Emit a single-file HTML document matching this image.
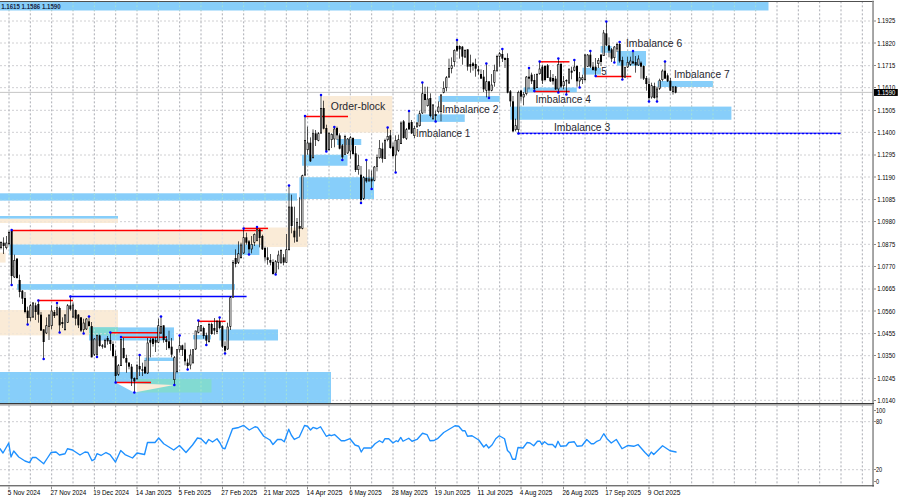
<!DOCTYPE html>
<html><head><meta charset="utf-8"><title>chart</title>
<style>html,body{margin:0;padding:0;background:#fff;}body{width:900px;height:500px;overflow:hidden;font-family:"Liberation Sans",sans-serif;}svg{display:block;}</style>
</head><body><svg width="900" height="500" viewBox="0 0 1350 750"><g stroke-width="1" stroke-dasharray="3 3" fill="none"><g stroke="#80848e"><line x1="13.5" y1="2" x2="13.5" y2="729"/><line x1="45.5" y1="2" x2="45.5" y2="729"/><line x1="77.5" y1="2" x2="77.5" y2="729"/><line x1="109.5" y1="2" x2="109.5" y2="729"/><line x1="141.5" y1="2" x2="141.5" y2="729"/><line x1="173.5" y1="2" x2="173.5" y2="729"/><line x1="205.5" y1="2" x2="205.5" y2="729"/><line x1="237.5" y1="2" x2="237.5" y2="729"/><line x1="269.5" y1="2" x2="269.5" y2="729"/><line x1="301.5" y1="2" x2="301.5" y2="729"/><line x1="333.5" y1="2" x2="333.5" y2="729"/><line x1="365.5" y1="2" x2="365.5" y2="729"/><line x1="397.5" y1="2" x2="397.5" y2="729"/><line x1="429.5" y1="2" x2="429.5" y2="729"/><line x1="461.5" y1="2" x2="461.5" y2="729"/><line x1="493.5" y1="2" x2="493.5" y2="729"/><line x1="525.5" y1="2" x2="525.5" y2="729"/><line x1="557.5" y1="2" x2="557.5" y2="729"/><line x1="589.5" y1="2" x2="589.5" y2="729"/><line x1="621.5" y1="2" x2="621.5" y2="729"/><line x1="653.5" y1="2" x2="653.5" y2="729"/><line x1="685.5" y1="2" x2="685.5" y2="729"/><line x1="717.5" y1="2" x2="717.5" y2="729"/><line x1="749.5" y1="2" x2="749.5" y2="729"/><line x1="781.5" y1="2" x2="781.5" y2="729"/><line x1="813.5" y1="2" x2="813.5" y2="729"/><line x1="845.5" y1="2" x2="845.5" y2="729"/><line x1="877.5" y1="2" x2="877.5" y2="729"/><line x1="909.5" y1="2" x2="909.5" y2="729"/><line x1="941.5" y1="2" x2="941.5" y2="729"/><line x1="973.5" y1="2" x2="973.5" y2="729"/><line x1="1005.5" y1="2" x2="1005.5" y2="729"/><line x1="1037.5" y1="2" x2="1037.5" y2="729"/><line x1="1069.5" y1="2" x2="1069.5" y2="729"/><line x1="1101.5" y1="2" x2="1101.5" y2="729"/><line x1="1133.5" y1="2" x2="1133.5" y2="729"/><line x1="1165.5" y1="2" x2="1165.5" y2="729"/><line x1="1197.5" y1="2" x2="1197.5" y2="729"/><line x1="1229.5" y1="2" x2="1229.5" y2="729"/><line x1="1261.5" y1="2" x2="1261.5" y2="729"/><line x1="1293.5" y1="2" x2="1293.5" y2="729"/></g><g stroke="#b8b8bc"><line x1="0" y1="31.5" x2="1310" y2="31.5"/><line x1="0" y1="64.5" x2="1310" y2="64.5"/><line x1="0" y1="98.5" x2="1310" y2="98.5"/><line x1="0" y1="131.5" x2="1310" y2="131.5"/><line x1="0" y1="165.5" x2="1310" y2="165.5"/><line x1="0" y1="198.5" x2="1310" y2="198.5"/><line x1="0" y1="232.5" x2="1310" y2="232.5"/><line x1="0" y1="265.5" x2="1310" y2="265.5"/><line x1="0" y1="299.5" x2="1310" y2="299.5"/><line x1="0" y1="332.5" x2="1310" y2="332.5"/><line x1="0" y1="366.5" x2="1310" y2="366.5"/><line x1="0" y1="399.5" x2="1310" y2="399.5"/><line x1="0" y1="433.5" x2="1310" y2="433.5"/><line x1="0" y1="466.5" x2="1310" y2="466.5"/><line x1="0" y1="500.5" x2="1310" y2="500.5"/><line x1="0" y1="533.5" x2="1310" y2="533.5"/><line x1="0" y1="567.5" x2="1310" y2="567.5"/><line x1="0" y1="600.5" x2="1310" y2="600.5"/><line x1="0" y1="632.5" x2="1310" y2="632.5"/><line x1="0" y1="704.5" x2="1310" y2="704.5"/></g></g>
<line x1="0" y1="138.6" x2="1310" y2="138.6" stroke="#b8b8b8" stroke-width="1.2"/>
<g><rect x="0.00" y="3.00" width="1152.75" height="12.75" fill="#87CEFA"/><rect x="0.00" y="289.95" width="445.50" height="10.95" fill="#87CEFA"/><rect x="0.00" y="327.90" width="177.00" height="6.60" fill="#FAEBD7"/><rect x="0.00" y="324.00" width="177.00" height="3.90" fill="#87CEFA"/><rect x="17.10" y="346.80" width="377.02" height="19.95" fill="#FAEBD7"/><rect x="394.12" y="341.25" width="67.12" height="29.25" fill="#FAEBD7"/><rect x="14.10" y="366.75" width="375.00" height="15.75" fill="#87CEFA"/><rect x="0.00" y="378.90" width="8.40" height="15.00" fill="#FAEBD7"/><rect x="25.50" y="426.15" width="327.00" height="8.47" fill="#87CEFA"/><rect x="0.00" y="465.00" width="177.00" height="38.10" fill="#FAEBD7"/><rect x="133.50" y="491.10" width="127.50" height="19.65" fill="#87CEFA"/><rect x="133.50" y="491.10" width="43.50" height="12.00" fill="#82DAD2"/><rect x="216.75" y="536.40" width="44.25" height="5.10" fill="#87CEFA"/><rect x="289.50" y="502.50" width="27.00" height="6.60" fill="#87CEFA"/><rect x="329.10" y="494.10" width="87.90" height="16.65" fill="#87CEFA"/><rect x="0.00" y="558.00" width="496.50" height="46.80" fill="#87CEFA"/><rect x="205.50" y="568.50" width="111.75" height="20.25" fill="#82DAD2"/><rect x="449.10" y="265.88" width="111.90" height="32.62" fill="#87CEFA"/><rect x="453.00" y="232.12" width="68.25" height="16.50" fill="#87CEFA"/><rect x="505.50" y="208.50" width="36.38" height="9.00" fill="#87CEFA"/><rect x="483.75" y="144.00" width="104.70" height="54.75" fill="#FAEBD7"/><rect x="624.90" y="171.60" width="72.22" height="11.25" fill="#87CEFA"/><rect x="657.75" y="144.00" width="91.88" height="8.85" fill="#87CEFA"/><rect x="765.60" y="159.90" width="331.50" height="19.73" fill="#87CEFA"/><rect x="785.25" y="131.25" width="79.95" height="7.12" fill="#87CEFA"/><rect x="873.75" y="101.62" width="27.75" height="10.27" fill="#87CEFA"/><rect x="900.90" y="69.00" width="16.50" height="10.12" fill="#87CEFA"/><rect x="925.50" y="76.50" width="43.50" height="22.12" fill="#87CEFA"/><rect x="986.40" y="121.50" width="83.10" height="9.00" fill="#87CEFA"/></g>
<clipPath id="cb"><rect x="0.00" y="3.00" width="1152.75" height="12.75" fill="#87CEFA"/><rect x="0.00" y="289.95" width="445.50" height="10.95" fill="#87CEFA"/><rect x="0.00" y="324.00" width="177.00" height="3.90" fill="#87CEFA"/><rect x="14.10" y="366.75" width="375.00" height="15.75" fill="#87CEFA"/><rect x="25.50" y="426.15" width="327.00" height="8.47" fill="#87CEFA"/><rect x="133.50" y="491.10" width="127.50" height="19.65" fill="#87CEFA"/><rect x="216.75" y="536.40" width="44.25" height="5.10" fill="#87CEFA"/><rect x="289.50" y="502.50" width="27.00" height="6.60" fill="#87CEFA"/><rect x="329.10" y="494.10" width="87.90" height="16.65" fill="#87CEFA"/><rect x="0.00" y="558.00" width="496.50" height="46.80" fill="#87CEFA"/><rect x="449.10" y="265.88" width="111.90" height="32.62" fill="#87CEFA"/><rect x="453.00" y="232.12" width="68.25" height="16.50" fill="#87CEFA"/><rect x="505.50" y="208.50" width="36.38" height="9.00" fill="#87CEFA"/><rect x="624.90" y="171.60" width="72.22" height="11.25" fill="#87CEFA"/><rect x="657.75" y="144.00" width="91.88" height="8.85" fill="#87CEFA"/><rect x="765.60" y="159.90" width="331.50" height="19.73" fill="#87CEFA"/><rect x="785.25" y="131.25" width="79.95" height="7.12" fill="#87CEFA"/><rect x="873.75" y="101.62" width="27.75" height="10.27" fill="#87CEFA"/><rect x="900.90" y="69.00" width="16.50" height="10.12" fill="#87CEFA"/><rect x="925.50" y="76.50" width="43.50" height="22.12" fill="#87CEFA"/><rect x="986.40" y="121.50" width="83.10" height="9.00" fill="#87CEFA"/></clipPath><clipPath id="cq"><rect x="0.00" y="327.90" width="177.00" height="6.60" fill="#FAEBD7"/><rect x="17.10" y="346.80" width="377.02" height="19.95" fill="#FAEBD7"/><rect x="394.12" y="341.25" width="67.12" height="29.25" fill="#FAEBD7"/><rect x="0.00" y="378.90" width="8.40" height="15.00" fill="#FAEBD7"/><rect x="0.00" y="465.00" width="177.00" height="38.10" fill="#FAEBD7"/><rect x="483.75" y="144.00" width="104.70" height="54.75" fill="#FAEBD7"/></clipPath>
<g stroke-width="1" stroke-dasharray="3 3" fill="none" clip-path="url(#cb)"><g stroke="#b4eec4"><line x1="13.5" y1="2" x2="13.5" y2="729"/><line x1="45.5" y1="2" x2="45.5" y2="729"/><line x1="77.5" y1="2" x2="77.5" y2="729"/><line x1="109.5" y1="2" x2="109.5" y2="729"/><line x1="141.5" y1="2" x2="141.5" y2="729"/><line x1="173.5" y1="2" x2="173.5" y2="729"/><line x1="205.5" y1="2" x2="205.5" y2="729"/><line x1="237.5" y1="2" x2="237.5" y2="729"/><line x1="269.5" y1="2" x2="269.5" y2="729"/><line x1="301.5" y1="2" x2="301.5" y2="729"/><line x1="333.5" y1="2" x2="333.5" y2="729"/><line x1="365.5" y1="2" x2="365.5" y2="729"/><line x1="397.5" y1="2" x2="397.5" y2="729"/><line x1="429.5" y1="2" x2="429.5" y2="729"/><line x1="461.5" y1="2" x2="461.5" y2="729"/><line x1="493.5" y1="2" x2="493.5" y2="729"/><line x1="525.5" y1="2" x2="525.5" y2="729"/><line x1="557.5" y1="2" x2="557.5" y2="729"/><line x1="589.5" y1="2" x2="589.5" y2="729"/><line x1="621.5" y1="2" x2="621.5" y2="729"/><line x1="653.5" y1="2" x2="653.5" y2="729"/><line x1="685.5" y1="2" x2="685.5" y2="729"/><line x1="717.5" y1="2" x2="717.5" y2="729"/><line x1="749.5" y1="2" x2="749.5" y2="729"/><line x1="781.5" y1="2" x2="781.5" y2="729"/><line x1="813.5" y1="2" x2="813.5" y2="729"/><line x1="845.5" y1="2" x2="845.5" y2="729"/><line x1="877.5" y1="2" x2="877.5" y2="729"/><line x1="909.5" y1="2" x2="909.5" y2="729"/><line x1="941.5" y1="2" x2="941.5" y2="729"/><line x1="973.5" y1="2" x2="973.5" y2="729"/><line x1="1005.5" y1="2" x2="1005.5" y2="729"/><line x1="1037.5" y1="2" x2="1037.5" y2="729"/><line x1="1069.5" y1="2" x2="1069.5" y2="729"/><line x1="1101.5" y1="2" x2="1101.5" y2="729"/><line x1="1133.5" y1="2" x2="1133.5" y2="729"/><line x1="1165.5" y1="2" x2="1165.5" y2="729"/><line x1="1197.5" y1="2" x2="1197.5" y2="729"/><line x1="1229.5" y1="2" x2="1229.5" y2="729"/><line x1="1261.5" y1="2" x2="1261.5" y2="729"/><line x1="1293.5" y1="2" x2="1293.5" y2="729"/></g><g stroke="#98d8e8"><line x1="0" y1="31.5" x2="1310" y2="31.5"/><line x1="0" y1="64.5" x2="1310" y2="64.5"/><line x1="0" y1="98.5" x2="1310" y2="98.5"/><line x1="0" y1="131.5" x2="1310" y2="131.5"/><line x1="0" y1="165.5" x2="1310" y2="165.5"/><line x1="0" y1="198.5" x2="1310" y2="198.5"/><line x1="0" y1="232.5" x2="1310" y2="232.5"/><line x1="0" y1="265.5" x2="1310" y2="265.5"/><line x1="0" y1="299.5" x2="1310" y2="299.5"/><line x1="0" y1="332.5" x2="1310" y2="332.5"/><line x1="0" y1="366.5" x2="1310" y2="366.5"/><line x1="0" y1="399.5" x2="1310" y2="399.5"/><line x1="0" y1="433.5" x2="1310" y2="433.5"/><line x1="0" y1="466.5" x2="1310" y2="466.5"/><line x1="0" y1="500.5" x2="1310" y2="500.5"/><line x1="0" y1="533.5" x2="1310" y2="533.5"/><line x1="0" y1="567.5" x2="1310" y2="567.5"/><line x1="0" y1="600.5" x2="1310" y2="600.5"/><line x1="0" y1="632.5" x2="1310" y2="632.5"/><line x1="0" y1="704.5" x2="1310" y2="704.5"/></g></g>
<g stroke-width="1" stroke-dasharray="3 3" fill="none" clip-path="url(#cq)"><g stroke="#d2dae8"><line x1="13.5" y1="2" x2="13.5" y2="729"/><line x1="45.5" y1="2" x2="45.5" y2="729"/><line x1="77.5" y1="2" x2="77.5" y2="729"/><line x1="109.5" y1="2" x2="109.5" y2="729"/><line x1="141.5" y1="2" x2="141.5" y2="729"/><line x1="173.5" y1="2" x2="173.5" y2="729"/><line x1="205.5" y1="2" x2="205.5" y2="729"/><line x1="237.5" y1="2" x2="237.5" y2="729"/><line x1="269.5" y1="2" x2="269.5" y2="729"/><line x1="301.5" y1="2" x2="301.5" y2="729"/><line x1="333.5" y1="2" x2="333.5" y2="729"/><line x1="365.5" y1="2" x2="365.5" y2="729"/><line x1="397.5" y1="2" x2="397.5" y2="729"/><line x1="429.5" y1="2" x2="429.5" y2="729"/><line x1="461.5" y1="2" x2="461.5" y2="729"/><line x1="493.5" y1="2" x2="493.5" y2="729"/><line x1="525.5" y1="2" x2="525.5" y2="729"/><line x1="557.5" y1="2" x2="557.5" y2="729"/><line x1="589.5" y1="2" x2="589.5" y2="729"/><line x1="621.5" y1="2" x2="621.5" y2="729"/><line x1="653.5" y1="2" x2="653.5" y2="729"/><line x1="685.5" y1="2" x2="685.5" y2="729"/><line x1="717.5" y1="2" x2="717.5" y2="729"/><line x1="749.5" y1="2" x2="749.5" y2="729"/><line x1="781.5" y1="2" x2="781.5" y2="729"/><line x1="813.5" y1="2" x2="813.5" y2="729"/><line x1="845.5" y1="2" x2="845.5" y2="729"/><line x1="877.5" y1="2" x2="877.5" y2="729"/><line x1="909.5" y1="2" x2="909.5" y2="729"/><line x1="941.5" y1="2" x2="941.5" y2="729"/><line x1="973.5" y1="2" x2="973.5" y2="729"/><line x1="1005.5" y1="2" x2="1005.5" y2="729"/><line x1="1037.5" y1="2" x2="1037.5" y2="729"/><line x1="1069.5" y1="2" x2="1069.5" y2="729"/><line x1="1101.5" y1="2" x2="1101.5" y2="729"/><line x1="1133.5" y1="2" x2="1133.5" y2="729"/><line x1="1165.5" y1="2" x2="1165.5" y2="729"/><line x1="1197.5" y1="2" x2="1197.5" y2="729"/><line x1="1229.5" y1="2" x2="1229.5" y2="729"/><line x1="1261.5" y1="2" x2="1261.5" y2="729"/><line x1="1293.5" y1="2" x2="1293.5" y2="729"/></g><g stroke="#ece2d8"><line x1="0" y1="31.5" x2="1310" y2="31.5"/><line x1="0" y1="64.5" x2="1310" y2="64.5"/><line x1="0" y1="98.5" x2="1310" y2="98.5"/><line x1="0" y1="131.5" x2="1310" y2="131.5"/><line x1="0" y1="165.5" x2="1310" y2="165.5"/><line x1="0" y1="198.5" x2="1310" y2="198.5"/><line x1="0" y1="232.5" x2="1310" y2="232.5"/><line x1="0" y1="265.5" x2="1310" y2="265.5"/><line x1="0" y1="299.5" x2="1310" y2="299.5"/><line x1="0" y1="332.5" x2="1310" y2="332.5"/><line x1="0" y1="366.5" x2="1310" y2="366.5"/><line x1="0" y1="399.5" x2="1310" y2="399.5"/><line x1="0" y1="433.5" x2="1310" y2="433.5"/><line x1="0" y1="466.5" x2="1310" y2="466.5"/><line x1="0" y1="500.5" x2="1310" y2="500.5"/><line x1="0" y1="533.5" x2="1310" y2="533.5"/><line x1="0" y1="567.5" x2="1310" y2="567.5"/><line x1="0" y1="600.5" x2="1310" y2="600.5"/><line x1="0" y1="632.5" x2="1310" y2="632.5"/><line x1="0" y1="704.5" x2="1310" y2="704.5"/></g></g>
<clipPath id="cl"><rect x="0" y="0" width="205.5" height="750"/></clipPath>
<clipPath id="cr"><rect x="205.5" y="0" width="400" height="750"/></clipPath>
<polygon points="173.1,573.9 201.1,588.8 261.0,577.5" fill="#fff" clip-path="url(#cl)"/>
<polygon points="173.1,573.9 201.1,588.8 261.0,577.5" fill="#FAEBD7" clip-path="url(#cr)"/>
<line x1="17.1" y1="345.75" x2="394.1" y2="345.75" stroke="#ff0000" stroke-width="2.2"/>
<line x1="365.1" y1="342.60" x2="402.0" y2="342.60" stroke="#ff0000" stroke-width="2.2"/>
<line x1="57.0" y1="450.60" x2="109.5" y2="450.60" stroke="#ff0000" stroke-width="2.2"/>
<line x1="165.0" y1="499.05" x2="241.5" y2="499.05" stroke="#ff0000" stroke-width="2.2"/>
<line x1="181.5" y1="505.95" x2="249.8" y2="505.95" stroke="#ff0000" stroke-width="2.2"/>
<line x1="173.1" y1="573.90" x2="226.5" y2="573.90" stroke="#ff0000" stroke-width="2.2"/>
<line x1="297.0" y1="481.95" x2="338.4" y2="481.95" stroke="#ff0000" stroke-width="2.2"/>
<line x1="457.1" y1="174.75" x2="522.0" y2="174.75" stroke="#ff0000" stroke-width="2.2"/>
<line x1="809.1" y1="92.70" x2="854.2" y2="92.70" stroke="#ff0000" stroke-width="2.2"/>
<line x1="801.0" y1="137.10" x2="854.6" y2="137.10" stroke="#ff0000" stroke-width="2.2"/>
<line x1="893.1" y1="114.90" x2="946.9" y2="114.90" stroke="#ff0000" stroke-width="2.2"/>
<line x1="105.0" y1="444.90" x2="369.9" y2="444.90" stroke="#0000ff" stroke-width="2.2"/>
<line x1="777.0" y1="200.10" x2="1261.5" y2="200.10" stroke="#0000ff" stroke-width="2.2" stroke-dasharray="3 3"/>
<line x1="777.0" y1="199.90" x2="1261.5" y2="199.90" stroke="#0000ff" stroke-width="1.3"/>
<g fill="#000"><rect x="1" y="362" width="1" height="12"/><rect x="5" y="356" width="1" height="25"/><rect x="9" y="354" width="1" height="20"/><rect x="13" y="346" width="1" height="22"/><rect x="17" y="345" width="1" height="83"/><rect x="21" y="382" width="1" height="35"/><rect x="25" y="387" width="1" height="31"/><rect x="29" y="412" width="1" height="34"/><rect x="33" y="435" width="1" height="21"/><rect x="37" y="438" width="1" height="32"/><rect x="41" y="460" width="1" height="27"/><rect x="45" y="456" width="1" height="26"/><rect x="49" y="453" width="1" height="24"/><rect x="53" y="454" width="1" height="26"/><rect x="57" y="451" width="1" height="33"/><rect x="61" y="468" width="1" height="28"/><rect x="65" y="494" width="1" height="44"/><rect x="69" y="476" width="1" height="25"/><rect x="73" y="472" width="1" height="38"/><rect x="77" y="458" width="1" height="36"/><rect x="81" y="465" width="1" height="12"/><rect x="85" y="454" width="1" height="20"/><rect x="89" y="460" width="1" height="39"/><rect x="93" y="476" width="1" height="16"/><rect x="97" y="471" width="1" height="25"/><rect x="101" y="456" width="1" height="28"/><rect x="105" y="445" width="1" height="21"/><rect x="109" y="454" width="1" height="23"/><rect x="113" y="464" width="1" height="24"/><rect x="117" y="471" width="1" height="21"/><rect x="121" y="476" width="1" height="22"/><rect x="125" y="478" width="1" height="22"/><rect x="129" y="477" width="1" height="18"/><rect x="133" y="475" width="1" height="15"/><rect x="137" y="483" width="1" height="53"/><rect x="141" y="507" width="1" height="27"/><rect x="145" y="502" width="1" height="34"/><rect x="149" y="502" width="1" height="18"/><rect x="153" y="516" width="1" height="7"/><rect x="157" y="508" width="1" height="14"/><rect x="161" y="504" width="1" height="13"/><rect x="165" y="499" width="1" height="27"/><rect x="169" y="512" width="1" height="24"/><rect x="173" y="526" width="1" height="48"/><rect x="177" y="546" width="1" height="18"/><rect x="181" y="506" width="1" height="43"/><rect x="185" y="507" width="1" height="31"/><rect x="189" y="532" width="1" height="27"/><rect x="193" y="543" width="1" height="11"/><rect x="197" y="546" width="1" height="33"/><rect x="201" y="566" width="1" height="23"/><rect x="205" y="546" width="1" height="24"/><rect x="209" y="532" width="1" height="32"/><rect x="213" y="544" width="1" height="20"/><rect x="217" y="540" width="1" height="21"/><rect x="221" y="507" width="1" height="54"/><rect x="225" y="507" width="1" height="29"/><rect x="229" y="507" width="1" height="13"/><rect x="233" y="506" width="1" height="22"/><rect x="237" y="478" width="1" height="36"/><rect x="241" y="475" width="1" height="26"/><rect x="245" y="488" width="1" height="26"/><rect x="249" y="504" width="1" height="21"/><rect x="253" y="496" width="1" height="28"/><rect x="257" y="507" width="1" height="29"/><rect x="261" y="534" width="1" height="44"/><rect x="265" y="524" width="1" height="36"/><rect x="269" y="503" width="1" height="26"/><rect x="273" y="517" width="1" height="17"/><rect x="277" y="514" width="1" height="34"/><rect x="281" y="538" width="1" height="16"/><rect x="285" y="524" width="1" height="30"/><rect x="289" y="524" width="1" height="22"/><rect x="293" y="496" width="1" height="29"/><rect x="297" y="481" width="1" height="19"/><rect x="301" y="488" width="1" height="10"/><rect x="305" y="490" width="1" height="18"/><rect x="309" y="499" width="1" height="19"/><rect x="313" y="484" width="1" height="30"/><rect x="317" y="484" width="1" height="18"/><rect x="321" y="477" width="1" height="25"/><rect x="325" y="480" width="1" height="21"/><rect x="329" y="476" width="1" height="18"/><rect x="333" y="488" width="1" height="34"/><rect x="337" y="512" width="1" height="18"/><rect x="341" y="484" width="1" height="41"/><rect x="345" y="444" width="1" height="51"/><rect x="349" y="390" width="1" height="57"/><rect x="353" y="374" width="1" height="27"/><rect x="357" y="362" width="1" height="34"/><rect x="361" y="364" width="1" height="24"/><rect x="365" y="343" width="1" height="38"/><rect x="369" y="349" width="1" height="18"/><rect x="373" y="360" width="1" height="22"/><rect x="377" y="354" width="1" height="26"/><rect x="381" y="350" width="1" height="19"/><rect x="385" y="340" width="1" height="22"/><rect x="389" y="344" width="1" height="27"/><rect x="393" y="352" width="1" height="23"/><rect x="397" y="370" width="1" height="22"/><rect x="401" y="371" width="1" height="26"/><rect x="405" y="381" width="1" height="17"/><rect x="409" y="389" width="1" height="23"/><rect x="413" y="390" width="1" height="22"/><rect x="417" y="376" width="1" height="28"/><rect x="421" y="374" width="1" height="22"/><rect x="425" y="381" width="1" height="17"/><rect x="429" y="351" width="1" height="43"/><rect x="433" y="278" width="1" height="98"/><rect x="437" y="292" width="1" height="58"/><rect x="441" y="310" width="1" height="54"/><rect x="445" y="327" width="1" height="36"/><rect x="449" y="296" width="1" height="59"/><rect x="453" y="262" width="1" height="82"/><rect x="457" y="174" width="1" height="90"/><rect x="461" y="190" width="1" height="42"/><rect x="465" y="206" width="1" height="37"/><rect x="469" y="194" width="1" height="44"/><rect x="473" y="195" width="1" height="24"/><rect x="477" y="198" width="1" height="14"/><rect x="481" y="142" width="1" height="59"/><rect x="485" y="151" width="1" height="43"/><rect x="489" y="187" width="1" height="40"/><rect x="493" y="198" width="1" height="28"/><rect x="497" y="200" width="1" height="22"/><rect x="501" y="190" width="1" height="31"/><rect x="505" y="190" width="1" height="20"/><rect x="509" y="200" width="1" height="24"/><rect x="513" y="216" width="1" height="24"/><rect x="517" y="202" width="1" height="30"/><rect x="521" y="207" width="1" height="24"/><rect x="525" y="204" width="1" height="34"/><rect x="529" y="206" width="1" height="26"/><rect x="533" y="219" width="1" height="39"/><rect x="537" y="232" width="1" height="30"/><rect x="541" y="249" width="1" height="55"/><rect x="545" y="264" width="1" height="36"/><rect x="549" y="240" width="1" height="34"/><rect x="553" y="254" width="1" height="18"/><rect x="557" y="256" width="1" height="28"/><rect x="561" y="249" width="1" height="23"/><rect x="565" y="232" width="1" height="25"/><rect x="569" y="210" width="1" height="28"/><rect x="573" y="214" width="1" height="30"/><rect x="577" y="208" width="1" height="30"/><rect x="581" y="191" width="1" height="21"/><rect x="585" y="195" width="1" height="28"/><rect x="589" y="214" width="1" height="22"/><rect x="593" y="203" width="1" height="56"/><rect x="597" y="202" width="1" height="26"/><rect x="601" y="182" width="1" height="34"/><rect x="605" y="180" width="1" height="28"/><rect x="609" y="192" width="1" height="18"/><rect x="613" y="166" width="1" height="29"/><rect x="617" y="180" width="1" height="21"/><rect x="621" y="189" width="1" height="18"/><rect x="625" y="183" width="1" height="9"/><rect x="629" y="166" width="1" height="24"/><rect x="633" y="124" width="1" height="47"/><rect x="637" y="130" width="1" height="40"/><rect x="641" y="130" width="1" height="30"/><rect x="645" y="140" width="1" height="36"/><rect x="649" y="156" width="1" height="24"/><rect x="653" y="166" width="1" height="16"/><rect x="657" y="152" width="1" height="18"/><rect x="661" y="141" width="1" height="41"/><rect x="665" y="122" width="1" height="18"/><rect x="669" y="114" width="1" height="23"/><rect x="673" y="88" width="1" height="29"/><rect x="677" y="86" width="1" height="24"/><rect x="681" y="74" width="1" height="26"/><rect x="685" y="60" width="1" height="18"/><rect x="689" y="68" width="1" height="20"/><rect x="693" y="69" width="1" height="28"/><rect x="697" y="74" width="1" height="13"/><rect x="701" y="74" width="1" height="32"/><rect x="705" y="82" width="1" height="27"/><rect x="709" y="93" width="1" height="13"/><rect x="713" y="88" width="1" height="27"/><rect x="717" y="99" width="1" height="13"/><rect x="721" y="104" width="1" height="14"/><rect x="725" y="105" width="1" height="33"/><rect x="729" y="95" width="1" height="51"/><rect x="733" y="122" width="1" height="25"/><rect x="737" y="111" width="1" height="26"/><rect x="741" y="97" width="1" height="33"/><rect x="745" y="82" width="1" height="26"/><rect x="749" y="78" width="1" height="22"/><rect x="753" y="74" width="1" height="19"/><rect x="757" y="86" width="1" height="16"/><rect x="761" y="80" width="1" height="60"/><rect x="765" y="135" width="1" height="25"/><rect x="769" y="144" width="1" height="54"/><rect x="773" y="178" width="1" height="19"/><rect x="777" y="136" width="1" height="64"/><rect x="781" y="135" width="1" height="17"/><rect x="785" y="138" width="1" height="20"/><rect x="789" y="114" width="1" height="29"/><rect x="793" y="102" width="1" height="32"/><rect x="797" y="109" width="1" height="17"/><rect x="801" y="111" width="1" height="25"/><rect x="805" y="110" width="1" height="22"/><rect x="809" y="92" width="1" height="20"/><rect x="813" y="97" width="1" height="29"/><rect x="817" y="98" width="1" height="24"/><rect x="821" y="96" width="1" height="21"/><rect x="825" y="105" width="1" height="18"/><rect x="829" y="111" width="1" height="16"/><rect x="833" y="114" width="1" height="21"/><rect x="837" y="88" width="1" height="51"/><rect x="841" y="94" width="1" height="38"/><rect x="845" y="114" width="1" height="20"/><rect x="849" y="119" width="1" height="23"/><rect x="853" y="102" width="1" height="24"/><rect x="857" y="100" width="1" height="19"/><rect x="861" y="90" width="1" height="17"/><rect x="865" y="98" width="1" height="32"/><rect x="869" y="108" width="1" height="23"/><rect x="873" y="112" width="1" height="14"/><rect x="877" y="81" width="1" height="41"/><rect x="881" y="81" width="1" height="19"/><rect x="885" y="76" width="1" height="26"/><rect x="889" y="93" width="1" height="13"/><rect x="893" y="87" width="1" height="27"/><rect x="897" y="87" width="1" height="15"/><rect x="901" y="81" width="1" height="18"/><rect x="905" y="45" width="1" height="39"/><rect x="909" y="32" width="1" height="37"/><rect x="913" y="56" width="1" height="30"/><rect x="917" y="72" width="1" height="21"/><rect x="921" y="69" width="1" height="25"/><rect x="925" y="64" width="1" height="14"/><rect x="929" y="63" width="1" height="31"/><rect x="933" y="85" width="1" height="34"/><rect x="937" y="100" width="1" height="17"/><rect x="941" y="85" width="1" height="17"/><rect x="945" y="85" width="1" height="14"/><rect x="949" y="76" width="1" height="20"/><rect x="953" y="84" width="1" height="25"/><rect x="957" y="83" width="1" height="16"/><rect x="961" y="92" width="1" height="26"/><rect x="965" y="98" width="1" height="22"/><rect x="969" y="114" width="1" height="22"/><rect x="973" y="118" width="1" height="34"/><rect x="977" y="124" width="1" height="24"/><rect x="981" y="124" width="1" height="24"/><rect x="985" y="130" width="1" height="22"/><rect x="989" y="118" width="1" height="17"/><rect x="993" y="104" width="1" height="18"/><rect x="997" y="92" width="1" height="26"/><rect x="1001" y="110" width="1" height="13"/><rect x="1005" y="117" width="1" height="19"/><rect x="1009" y="129" width="1" height="13"/><rect x="1013" y="129" width="1" height="11"/><rect x="4" y="364" width="3" height="5"/><rect x="16" y="346" width="3" height="68"/><rect x="24" y="388" width="3" height="29"/><rect x="28" y="420" width="3" height="18"/><rect x="32" y="436" width="3" height="12"/><rect x="36" y="447" width="3" height="21"/><rect x="40" y="466" width="3" height="11"/><rect x="52" y="458" width="3" height="10"/><rect x="56" y="456" width="3" height="16"/><rect x="60" y="472" width="3" height="24"/><rect x="64" y="494" width="3" height="19"/><rect x="80" y="468" width="3" height="6"/><rect x="88" y="462" width="3" height="26"/><rect x="92" y="483" width="3" height="3"/><rect x="104" y="458" width="3" height="6"/><rect x="112" y="465" width="3" height="13"/><rect x="116" y="472" width="3" height="16"/><rect x="120" y="476" width="3" height="20"/><rect x="132" y="482" width="3" height="7"/><rect x="136" y="489" width="3" height="47"/><rect x="148" y="503" width="3" height="16"/><rect x="152" y="518" width="3" height="2"/><rect x="160" y="507" width="3" height="5"/><rect x="164" y="510" width="3" height="6"/><rect x="168" y="516" width="3" height="18"/><rect x="172" y="534" width="3" height="30"/><rect x="184" y="522" width="3" height="15"/><rect x="188" y="537" width="3" height="7"/><rect x="192" y="544" width="3" height="6"/><rect x="196" y="550" width="3" height="18"/><rect x="200" y="567" width="3" height="5"/><rect x="208" y="549" width="3" height="5"/><rect x="212" y="554" width="3" height="2"/><rect x="216" y="550" width="3" height="10"/><rect x="224" y="510" width="3" height="4"/><rect x="228" y="508" width="3" height="8"/><rect x="232" y="510" width="3" height="4"/><rect x="244" y="488" width="3" height="22"/><rect x="248" y="509" width="3" height="4"/><rect x="252" y="512" width="3" height="10"/><rect x="256" y="520" width="3" height="12"/><rect x="272" y="518" width="3" height="7"/><rect x="276" y="524" width="3" height="18"/><rect x="280" y="544" width="3" height="5"/><rect x="304" y="492" width="3" height="12"/><rect x="308" y="503" width="3" height="8"/><rect x="316" y="486" width="3" height="15"/><rect x="320" y="492" width="3" height="4"/><rect x="328" y="482" width="3" height="10"/><rect x="332" y="489" width="3" height="31"/><rect x="336" y="519" width="3" height="7"/><rect x="352" y="387" width="3" height="9"/><rect x="368" y="356" width="3" height="8"/><rect x="372" y="362" width="3" height="12"/><rect x="388" y="344" width="3" height="13"/><rect x="392" y="354" width="3" height="20"/><rect x="396" y="372" width="3" height="14"/><rect x="400" y="386" width="3" height="4"/><rect x="404" y="390" width="3" height="4"/><rect x="408" y="393" width="3" height="18"/><rect x="424" y="386" width="3" height="8"/><rect x="436" y="310" width="3" height="29"/><rect x="440" y="346" width="3" height="10"/><rect x="448" y="339" width="3" height="4"/><rect x="464" y="214" width="3" height="28"/><rect x="472" y="200" width="3" height="10"/><rect x="484" y="162" width="3" height="31"/><rect x="488" y="192" width="3" height="34"/><rect x="504" y="192" width="3" height="11"/><rect x="508" y="203" width="3" height="20"/><rect x="512" y="218" width="3" height="18"/><rect x="528" y="207" width="3" height="24"/><rect x="532" y="230" width="3" height="25"/><rect x="540" y="262" width="3" height="38"/><rect x="548" y="267" width="3" height="5"/><rect x="556" y="268" width="3" height="4"/><rect x="572" y="223" width="3" height="15"/><rect x="584" y="203" width="3" height="19"/><rect x="588" y="220" width="3" height="14"/><rect x="604" y="182" width="3" height="25"/><rect x="612" y="184" width="3" height="10"/><rect x="616" y="183" width="3" height="17"/><rect x="636" y="141" width="3" height="9"/><rect x="644" y="147" width="3" height="27"/><rect x="652" y="171" width="3" height="3"/><rect x="684" y="69" width="3" height="7"/><rect x="688" y="69" width="3" height="5"/><rect x="692" y="70" width="3" height="15"/><rect x="700" y="74" width="3" height="26"/><rect x="704" y="96" width="3" height="4"/><rect x="708" y="95" width="3" height="4"/><rect x="712" y="96" width="3" height="7"/><rect x="716" y="104" width="3" height="3"/><rect x="720" y="111" width="3" height="7"/><rect x="724" y="115" width="3" height="19"/><rect x="732" y="122" width="3" height="14"/><rect x="752" y="81" width="3" height="7"/><rect x="756" y="87" width="3" height="3"/><rect x="760" y="87" width="3" height="52"/><rect x="764" y="137" width="3" height="15"/><rect x="768" y="152" width="3" height="45"/><rect x="780" y="136" width="3" height="9"/><rect x="792" y="115" width="3" height="3"/><rect x="796" y="112" width="3" height="10"/><rect x="800" y="120" width="3" height="14"/><rect x="812" y="100" width="3" height="21"/><rect x="816" y="99" width="3" height="21"/><rect x="820" y="98" width="3" height="19"/><rect x="824" y="116" width="3" height="6"/><rect x="828" y="117" width="3" height="5"/><rect x="832" y="118" width="3" height="16"/><rect x="840" y="96" width="3" height="34"/><rect x="848" y="120" width="3" height="2"/><rect x="856" y="106" width="3" height="3"/><rect x="864" y="99" width="3" height="23"/><rect x="884" y="82" width="3" height="18"/><rect x="888" y="100" width="3" height="5"/><rect x="892" y="100" width="3" height="6"/><rect x="900" y="82" width="3" height="11"/><rect x="908" y="50" width="3" height="18"/><rect x="912" y="68" width="3" height="8"/><rect x="916" y="74" width="3" height="14"/><rect x="928" y="66" width="3" height="26"/><rect x="932" y="90" width="3" height="26"/><rect x="948" y="92" width="3" height="3"/><rect x="952" y="93" width="3" height="5"/><rect x="960" y="94" width="3" height="6"/><rect x="964" y="99" width="3" height="19"/><rect x="968" y="117" width="3" height="9"/><rect x="972" y="126" width="3" height="21"/><rect x="980" y="129" width="3" height="18"/><rect x="996" y="106" width="3" height="12"/><rect x="1000" y="113" width="3" height="9"/><rect x="1004" y="121" width="3" height="15"/><rect x="1012" y="130" width="3" height="9"/><rect x="0" y="363" width="3" height="9"/><rect x="1" y="364" width="1" height="7" fill="#fff"/><rect x="8" y="364" width="3" height="8"/><rect x="9" y="365" width="1" height="6" fill="#fff"/><rect x="12" y="348" width="3" height="18"/><rect x="13" y="349" width="1" height="16" fill="#fff"/><rect x="20" y="390" width="3" height="26"/><rect x="21" y="391" width="1" height="24" fill="#fff"/><rect x="44" y="458" width="3" height="19"/><rect x="45" y="459" width="1" height="17" fill="#fff"/><rect x="48" y="454" width="3" height="22"/><rect x="49" y="455" width="1" height="20" fill="#fff"/><rect x="68" y="488" width="3" height="12"/><rect x="69" y="489" width="1" height="10" fill="#fff"/><rect x="72" y="472" width="3" height="18"/><rect x="73" y="473" width="1" height="16" fill="#fff"/><rect x="76" y="466" width="3" height="23"/><rect x="77" y="467" width="1" height="21" fill="#fff"/><rect x="84" y="461" width="3" height="11"/><rect x="85" y="462" width="1" height="9" fill="#fff"/><rect x="96" y="472" width="3" height="23"/><rect x="97" y="473" width="1" height="21" fill="#fff"/><rect x="100" y="458" width="3" height="26"/><rect x="101" y="459" width="1" height="24" fill="#fff"/><rect x="108" y="457" width="3" height="19"/><rect x="109" y="458" width="1" height="17" fill="#fff"/><rect x="124" y="484" width="3" height="11"/><rect x="125" y="485" width="1" height="9" fill="#fff"/><rect x="128" y="478" width="3" height="16"/><rect x="129" y="479" width="1" height="14" fill="#fff"/><rect x="140" y="508" width="3" height="24"/><rect x="141" y="509" width="1" height="22" fill="#fff"/><rect x="144" y="503" width="3" height="29"/><rect x="145" y="504" width="1" height="27" fill="#fff"/><rect x="156" y="510" width="3" height="11"/><rect x="157" y="511" width="1" height="9" fill="#fff"/><rect x="176" y="548" width="3" height="14"/><rect x="177" y="549" width="1" height="12" fill="#fff"/><rect x="180" y="509" width="3" height="40"/><rect x="181" y="510" width="1" height="38" fill="#fff"/><rect x="204" y="548" width="3" height="20"/><rect x="205" y="549" width="1" height="18" fill="#fff"/><rect x="220" y="514" width="3" height="46"/><rect x="221" y="515" width="1" height="44" fill="#fff"/><rect x="236" y="488" width="3" height="26"/><rect x="237" y="489" width="1" height="24" fill="#fff"/><rect x="240" y="489" width="3" height="11"/><rect x="241" y="490" width="1" height="9" fill="#fff"/><rect x="260" y="536" width="3" height="34"/><rect x="261" y="537" width="1" height="32" fill="#fff"/><rect x="264" y="524" width="3" height="34"/><rect x="265" y="525" width="1" height="32" fill="#fff"/><rect x="268" y="518" width="3" height="7"/><rect x="269" y="519" width="1" height="5" fill="#fff"/><rect x="284" y="532" width="3" height="16"/><rect x="285" y="533" width="1" height="14" fill="#fff"/><rect x="288" y="524" width="3" height="20"/><rect x="289" y="525" width="1" height="18" fill="#fff"/><rect x="292" y="496" width="3" height="28"/><rect x="293" y="497" width="1" height="26" fill="#fff"/><rect x="296" y="489" width="3" height="10"/><rect x="297" y="490" width="1" height="8" fill="#fff"/><rect x="300" y="488" width="3" height="8"/><rect x="301" y="489" width="1" height="6" fill="#fff"/><rect x="312" y="486" width="3" height="27"/><rect x="313" y="487" width="1" height="25" fill="#fff"/><rect x="324" y="482" width="3" height="16"/><rect x="325" y="483" width="1" height="14" fill="#fff"/><rect x="340" y="490" width="3" height="34"/><rect x="341" y="491" width="1" height="32" fill="#fff"/><rect x="344" y="446" width="3" height="44"/><rect x="345" y="447" width="1" height="42" fill="#fff"/><rect x="348" y="393" width="3" height="53"/><rect x="349" y="394" width="1" height="51" fill="#fff"/><rect x="356" y="380" width="3" height="14"/><rect x="357" y="381" width="1" height="12" fill="#fff"/><rect x="360" y="367" width="3" height="20"/><rect x="361" y="368" width="1" height="18" fill="#fff"/><rect x="364" y="356" width="3" height="24"/><rect x="365" y="357" width="1" height="22" fill="#fff"/><rect x="376" y="366" width="3" height="8"/><rect x="377" y="367" width="1" height="6" fill="#fff"/><rect x="380" y="351" width="3" height="13"/><rect x="381" y="352" width="1" height="11" fill="#fff"/><rect x="384" y="344" width="3" height="17"/><rect x="385" y="345" width="1" height="15" fill="#fff"/><rect x="412" y="392" width="3" height="18"/><rect x="413" y="393" width="1" height="16" fill="#fff"/><rect x="416" y="382" width="3" height="12"/><rect x="417" y="383" width="1" height="10" fill="#fff"/><rect x="420" y="375" width="3" height="19"/><rect x="421" y="376" width="1" height="17" fill="#fff"/><rect x="428" y="374" width="3" height="20"/><rect x="429" y="375" width="1" height="18" fill="#fff"/><rect x="432" y="310" width="3" height="65"/><rect x="433" y="311" width="1" height="63" fill="#fff"/><rect x="444" y="333" width="3" height="29"/><rect x="445" y="334" width="1" height="27" fill="#fff"/><rect x="452" y="263" width="3" height="80"/><rect x="453" y="264" width="1" height="78" fill="#fff"/><rect x="456" y="210" width="3" height="53"/><rect x="457" y="211" width="1" height="51" fill="#fff"/><rect x="460" y="214" width="3" height="11"/><rect x="461" y="215" width="1" height="9" fill="#fff"/><rect x="468" y="200" width="3" height="37"/><rect x="469" y="201" width="1" height="35" fill="#fff"/><rect x="476" y="200" width="3" height="11"/><rect x="477" y="201" width="1" height="9" fill="#fff"/><rect x="480" y="162" width="3" height="38"/><rect x="481" y="163" width="1" height="36" fill="#fff"/><rect x="492" y="200" width="3" height="25"/><rect x="493" y="201" width="1" height="23" fill="#fff"/><rect x="496" y="201" width="3" height="9"/><rect x="497" y="202" width="1" height="7" fill="#fff"/><rect x="500" y="193" width="3" height="16"/><rect x="501" y="194" width="1" height="14" fill="#fff"/><rect x="516" y="204" width="3" height="28"/><rect x="517" y="205" width="1" height="26" fill="#fff"/><rect x="520" y="208" width="3" height="22"/><rect x="521" y="209" width="1" height="20" fill="#fff"/><rect x="524" y="206" width="3" height="21"/><rect x="525" y="207" width="1" height="19" fill="#fff"/><rect x="536" y="248" width="3" height="7"/><rect x="537" y="249" width="1" height="5" fill="#fff"/><rect x="544" y="266" width="3" height="32"/><rect x="545" y="267" width="1" height="30" fill="#fff"/><rect x="552" y="268" width="3" height="4"/><rect x="553" y="269" width="1" height="2" fill="#fff"/><rect x="560" y="250" width="3" height="21"/><rect x="561" y="251" width="1" height="19" fill="#fff"/><rect x="564" y="236" width="3" height="14"/><rect x="565" y="237" width="1" height="12" fill="#fff"/><rect x="568" y="222" width="3" height="15"/><rect x="569" y="223" width="1" height="13" fill="#fff"/><rect x="576" y="210" width="3" height="28"/><rect x="577" y="211" width="1" height="26" fill="#fff"/><rect x="580" y="204" width="3" height="6"/><rect x="581" y="205" width="1" height="4" fill="#fff"/><rect x="592" y="210" width="3" height="23"/><rect x="593" y="211" width="1" height="21" fill="#fff"/><rect x="596" y="209" width="3" height="17"/><rect x="597" y="210" width="1" height="15" fill="#fff"/><rect x="600" y="184" width="3" height="32"/><rect x="601" y="185" width="1" height="30" fill="#fff"/><rect x="608" y="194" width="3" height="14"/><rect x="609" y="195" width="1" height="12" fill="#fff"/><rect x="620" y="192" width="3" height="12"/><rect x="621" y="193" width="1" height="10" fill="#fff"/><rect x="624" y="184" width="3" height="6"/><rect x="625" y="185" width="1" height="4" fill="#fff"/><rect x="628" y="170" width="3" height="19"/><rect x="629" y="171" width="1" height="17" fill="#fff"/><rect x="632" y="140" width="3" height="30"/><rect x="633" y="141" width="1" height="28" fill="#fff"/><rect x="640" y="148" width="3" height="11"/><rect x="641" y="149" width="1" height="9" fill="#fff"/><rect x="648" y="157" width="3" height="21"/><rect x="649" y="158" width="1" height="19" fill="#fff"/><rect x="656" y="160" width="3" height="8"/><rect x="657" y="161" width="1" height="6" fill="#fff"/><rect x="660" y="142" width="3" height="26"/><rect x="661" y="143" width="1" height="24" fill="#fff"/><rect x="664" y="132" width="3" height="7"/><rect x="665" y="133" width="1" height="5" fill="#fff"/><rect x="668" y="116" width="3" height="16"/><rect x="669" y="117" width="1" height="14" fill="#fff"/><rect x="672" y="102" width="3" height="14"/><rect x="673" y="103" width="1" height="12" fill="#fff"/><rect x="676" y="98" width="3" height="5"/><rect x="677" y="99" width="1" height="3" fill="#fff"/><rect x="680" y="75" width="3" height="18"/><rect x="681" y="76" width="1" height="16" fill="#fff"/><rect x="696" y="75" width="3" height="11"/><rect x="697" y="76" width="1" height="9" fill="#fff"/><rect x="728" y="122" width="3" height="14"/><rect x="729" y="123" width="1" height="12" fill="#fff"/><rect x="736" y="127" width="3" height="9"/><rect x="737" y="128" width="1" height="7" fill="#fff"/><rect x="740" y="105" width="3" height="19"/><rect x="741" y="106" width="1" height="17" fill="#fff"/><rect x="744" y="84" width="3" height="22"/><rect x="745" y="85" width="1" height="20" fill="#fff"/><rect x="748" y="80" width="3" height="5"/><rect x="749" y="81" width="1" height="3" fill="#fff"/><rect x="772" y="188" width="3" height="7"/><rect x="773" y="189" width="1" height="5" fill="#fff"/><rect x="776" y="138" width="3" height="57"/><rect x="777" y="139" width="1" height="55" fill="#fff"/><rect x="784" y="141" width="3" height="5"/><rect x="785" y="142" width="1" height="3" fill="#fff"/><rect x="788" y="115" width="3" height="26"/><rect x="789" y="116" width="1" height="24" fill="#fff"/><rect x="804" y="111" width="3" height="21"/><rect x="805" y="112" width="1" height="19" fill="#fff"/><rect x="808" y="103" width="3" height="8"/><rect x="809" y="104" width="1" height="6" fill="#fff"/><rect x="836" y="96" width="3" height="38"/><rect x="837" y="97" width="1" height="36" fill="#fff"/><rect x="844" y="122" width="3" height="7"/><rect x="845" y="123" width="1" height="5" fill="#fff"/><rect x="852" y="104" width="3" height="21"/><rect x="853" y="105" width="1" height="19" fill="#fff"/><rect x="860" y="100" width="3" height="6"/><rect x="861" y="101" width="1" height="4" fill="#fff"/><rect x="868" y="116" width="3" height="6"/><rect x="869" y="117" width="1" height="4" fill="#fff"/><rect x="872" y="116" width="3" height="4"/><rect x="873" y="117" width="1" height="2" fill="#fff"/><rect x="876" y="82" width="3" height="38"/><rect x="877" y="83" width="1" height="36" fill="#fff"/><rect x="880" y="82" width="3" height="18"/><rect x="881" y="83" width="1" height="16" fill="#fff"/><rect x="896" y="90" width="3" height="6"/><rect x="897" y="91" width="1" height="4" fill="#fff"/><rect x="904" y="49" width="3" height="35"/><rect x="905" y="50" width="1" height="33" fill="#fff"/><rect x="920" y="70" width="3" height="17"/><rect x="921" y="71" width="1" height="15" fill="#fff"/><rect x="924" y="66" width="3" height="8"/><rect x="925" y="67" width="1" height="6" fill="#fff"/><rect x="936" y="101" width="3" height="15"/><rect x="937" y="102" width="1" height="13" fill="#fff"/><rect x="940" y="93" width="3" height="8"/><rect x="941" y="94" width="1" height="6" fill="#fff"/><rect x="944" y="91" width="3" height="6"/><rect x="945" y="92" width="1" height="4" fill="#fff"/><rect x="956" y="88" width="3" height="10"/><rect x="957" y="89" width="1" height="8" fill="#fff"/><rect x="976" y="128" width="3" height="18"/><rect x="977" y="129" width="1" height="16" fill="#fff"/><rect x="984" y="133" width="3" height="13"/><rect x="985" y="134" width="1" height="11" fill="#fff"/><rect x="988" y="120" width="3" height="13"/><rect x="989" y="121" width="1" height="11" fill="#fff"/><rect x="992" y="106" width="3" height="14"/><rect x="993" y="107" width="1" height="12" fill="#fff"/><rect x="1008" y="130" width="3" height="8"/><rect x="1009" y="131" width="1" height="6" fill="#fff"/></g>
<g fill="#0000ff"><circle cx="17.5" cy="345.0" r="1.9"/><circle cx="17.5" cy="427.5" r="1.9"/><circle cx="41.5" cy="486.6" r="1.9"/><circle cx="57.5" cy="450.6" r="1.9"/><circle cx="65.5" cy="538.5" r="1.9"/><circle cx="85.5" cy="454.5" r="1.9"/><circle cx="89.5" cy="498.6" r="1.9"/><circle cx="105.5" cy="444.8" r="1.9"/><circle cx="125.5" cy="500.4" r="1.9"/><circle cx="133.5" cy="474.6" r="1.9"/><circle cx="145.5" cy="535.5" r="1.9"/><circle cx="165.5" cy="498.6" r="1.9"/><circle cx="173.5" cy="573.9" r="1.9"/><circle cx="181.5" cy="505.5" r="1.9"/><circle cx="201.5" cy="588.6" r="1.9"/><circle cx="209.5" cy="532.5" r="1.9"/><circle cx="241.5" cy="474.6" r="1.9"/><circle cx="261.5" cy="577.5" r="1.9"/><circle cx="269.5" cy="503.1" r="1.9"/><circle cx="281.5" cy="554.4" r="1.9"/><circle cx="297.5" cy="480.6" r="1.9"/><circle cx="309.5" cy="517.5" r="1.9"/><circle cx="329.5" cy="476.1" r="1.9"/><circle cx="337.5" cy="530.4" r="1.9"/><circle cx="365.5" cy="342.9" r="1.9"/><circle cx="373.5" cy="381.9" r="1.9"/><circle cx="385.5" cy="340.5" r="1.9"/><circle cx="413.5" cy="411.6" r="1.9"/><circle cx="433.5" cy="278.1" r="1.9"/><circle cx="457.5" cy="174.0" r="1.9"/><circle cx="481.5" cy="142.5" r="1.9"/><circle cx="489.5" cy="227.4" r="1.9"/><circle cx="501.5" cy="190.5" r="1.9"/><circle cx="513.5" cy="240.0" r="1.9"/><circle cx="541.5" cy="304.5" r="1.9"/><circle cx="549.5" cy="240.0" r="1.9"/><circle cx="557.5" cy="283.5" r="1.9"/><circle cx="581.5" cy="191.1" r="1.9"/><circle cx="593.5" cy="258.9" r="1.9"/><circle cx="613.5" cy="166.5" r="1.9"/><circle cx="633.5" cy="123.6" r="1.9"/><circle cx="653.5" cy="182.4" r="1.9"/><circle cx="685.5" cy="60.0" r="1.9"/><circle cx="729.5" cy="95.1" r="1.9"/><circle cx="733.5" cy="147.0" r="1.9"/><circle cx="753.5" cy="73.5" r="1.9"/><circle cx="777.5" cy="200.1" r="1.9"/><circle cx="793.5" cy="102.0" r="1.9"/><circle cx="801.5" cy="136.5" r="1.9"/><circle cx="809.5" cy="92.1" r="1.9"/><circle cx="837.5" cy="87.9" r="1.9"/><circle cx="837.5" cy="138.6" r="1.9"/><circle cx="849.5" cy="141.9" r="1.9"/><circle cx="861.5" cy="90.0" r="1.9"/><circle cx="869.5" cy="131.1" r="1.9"/><circle cx="885.5" cy="76.5" r="1.9"/><circle cx="893.5" cy="114.0" r="1.9"/><circle cx="909.5" cy="32.1" r="1.9"/><circle cx="921.5" cy="93.6" r="1.9"/><circle cx="929.5" cy="63.0" r="1.9"/><circle cx="933.5" cy="119.1" r="1.9"/><circle cx="949.5" cy="76.5" r="1.9"/><circle cx="973.5" cy="152.1" r="1.9"/><circle cx="985.5" cy="152.1" r="1.9"/><circle cx="997.5" cy="92.1" r="1.9"/></g>
<polyline fill="none" stroke="#1e90ff" stroke-width="2.05" stroke-linejoin="round" stroke-linecap="round" points="0.0,673.1 4.5,679.5 13.1,664.5 16.5,685.5 20.6,676.5 28.1,685.5 37.5,691.5 44.2,693.8 48.8,686.2 54.0,686.2 65.6,695.6 71.2,687.0 76.5,678.8 84.0,678.0 89.2,682.5 97.5,680.6 101.2,673.1 108.8,675.0 120.0,682.5 127.5,678.0 132.0,678.8 138.0,691.1 141.8,689.2 145.5,680.6 151.5,683.2 159.0,678.8 165.0,681.8 173.2,693.0 181.1,675.8 187.5,681.8 198.8,687.0 205.5,679.5 216.8,681.8 221.2,663.8 232.5,663.8 238.1,657.0 245.6,665.6 260.6,675.0 269.2,668.2 279.0,678.8 288.8,667.5 296.2,657.0 301.5,658.1 309.0,665.6 313.1,659.2 318.8,663.0 325.5,658.1 330.0,664.5 333.8,672.0 337.5,673.1 348.8,643.1 358.1,641.2 365.6,638.2 373.9,645.0 382.5,640.1 386.2,641.2 395.6,654.4 405.0,660.0 409.5,666.8 416.2,659.2 421.9,659.2 426.4,662.6 433.1,643.9 436.9,652.5 441.4,659.2 448.9,655.5 456.8,638.2 461.2,639.4 465.8,645.0 469.5,641.2 475.5,643.1 480.8,640.1 489.4,654.4 494.2,652.5 496.9,653.6 501.8,651.8 511.9,661.1 517.5,661.1 525.0,658.1 532.5,667.5 538.1,669.4 541.9,678.0 545.6,672.0 556.9,672.0 562.5,665.6 569.2,661.1 573.8,663.8 577.5,658.1 583.1,658.1 589.5,664.5 594.4,661.1 597.0,662.6 601.1,656.2 604.5,661.9 613.1,657.4 618.0,661.9 625.5,659.2 633.8,649.9 640.5,651.8 645.0,661.1 650.6,660.8 656.2,658.1 665.6,648.8 675.0,643.1 682.5,638.6 688.1,639.4 693.8,646.1 697.5,646.1 701.2,654.4 708.0,653.6 718.1,660.0 725.6,670.5 729.4,666.8 733.1,672.0 738.0,667.5 743.6,658.1 748.9,653.6 756.8,658.1 761.2,675.8 765.0,679.5 768.8,688.9 773.2,688.9 777.0,671.2 784.5,672.0 790.5,663.8 795.0,664.5 800.6,668.6 806.2,661.9 810.0,661.9 813.0,666.8 816.8,662.6 822.0,666.8 828.8,666.8 833.2,671.2 837.0,661.9 840.8,669.4 849.4,668.6 853.1,663.8 861.4,662.6 865.5,669.4 873.0,668.6 880.1,659.2 886.9,665.6 890.6,665.6 894.4,662.6 900.0,660.0 905.6,650.6 910.5,658.1 916.9,664.5 924.4,659.2 933.0,673.1 942.0,668.2 950.6,669.4 957.0,666.8 967.5,678.8 973.1,684.4 976.9,678.0 980.6,681.8 993.8,668.6 1005.0,676.1 1014.0,678.0"/>
<rect x="0" y="1" width="1311" height="2" fill="#505050" shape-rendering="crispEdges"/>
<rect x="1308.4" y="1" width="2.3" height="729" fill="#8c8c8c"/>
<rect x="0" y="604.5" width="1311" height="1.8" fill="#383838"/>
<rect x="0" y="606.3" width="1311" height="2.1" fill="#a4a4a4"/>
<rect x="0" y="727.8" width="1311" height="1.7" fill="#505050"/>
<g fill="#505050"><rect x="1311" y="31" width="3" height="1"/><rect x="1311" y="64" width="3" height="1"/><rect x="1311" y="98" width="3" height="1"/><rect x="1311" y="131" width="3" height="1"/><rect x="1311" y="165" width="3" height="1"/><rect x="1311" y="198" width="3" height="1"/><rect x="1311" y="232" width="3" height="1"/><rect x="1311" y="265" width="3" height="1"/><rect x="1311" y="299" width="3" height="1"/><rect x="1311" y="332" width="3" height="1"/><rect x="1311" y="366" width="3" height="1"/><rect x="1311" y="399" width="3" height="1"/><rect x="1311" y="433" width="3" height="1"/><rect x="1311" y="466" width="3" height="1"/><rect x="1311" y="500" width="3" height="1"/><rect x="1311" y="533" width="3" height="1"/><rect x="1311" y="567" width="3" height="1"/><rect x="1311" y="600" width="3" height="1"/><rect x="1311" y="615" width="3" height="1"/><rect x="1311" y="632" width="3" height="1"/><rect x="1311" y="704" width="3" height="1"/><rect x="1311" y="722" width="3" height="1"/><rect x="13" y="730" width="1" height="4"/><rect x="77" y="730" width="1" height="4"/><rect x="141" y="730" width="1" height="4"/><rect x="205" y="730" width="1" height="4"/><rect x="269" y="730" width="1" height="4"/><rect x="333" y="730" width="1" height="4"/><rect x="397" y="730" width="1" height="4"/><rect x="461" y="730" width="1" height="4"/><rect x="525" y="730" width="1" height="4"/><rect x="589" y="730" width="1" height="4"/><rect x="653" y="730" width="1" height="4"/><rect x="717" y="730" width="1" height="4"/><rect x="781" y="730" width="1" height="4"/><rect x="845" y="730" width="1" height="4"/><rect x="909" y="730" width="1" height="4"/><rect x="973" y="730" width="1" height="4"/></g>
<g font-family="Liberation Sans, sans-serif"><text x="1315.8" y="35.0" font-size="11.10" fill="#000" font-weight="normal" text-anchor="start" textLength="27.0" lengthAdjust="spacingAndGlyphs">1.1925</text><text x="1315.8" y="68.5" font-size="11.10" fill="#000" font-weight="normal" text-anchor="start" textLength="27.0" lengthAdjust="spacingAndGlyphs">1.1820</text><text x="1315.8" y="102.0" font-size="11.10" fill="#000" font-weight="normal" text-anchor="start" textLength="27.0" lengthAdjust="spacingAndGlyphs">1.1715</text><text x="1315.8" y="135.5" font-size="11.10" fill="#000" font-weight="normal" text-anchor="start" textLength="27.0" lengthAdjust="spacingAndGlyphs">1.1610</text><text x="1315.8" y="169.0" font-size="11.10" fill="#000" font-weight="normal" text-anchor="start" textLength="27.0" lengthAdjust="spacingAndGlyphs">1.1505</text><text x="1315.8" y="202.5" font-size="11.10" fill="#000" font-weight="normal" text-anchor="start" textLength="27.0" lengthAdjust="spacingAndGlyphs">1.1400</text><text x="1315.8" y="236.0" font-size="11.10" fill="#000" font-weight="normal" text-anchor="start" textLength="27.0" lengthAdjust="spacingAndGlyphs">1.1295</text><text x="1315.8" y="269.4" font-size="11.10" fill="#000" font-weight="normal" text-anchor="start" textLength="27.0" lengthAdjust="spacingAndGlyphs">1.1190</text><text x="1315.8" y="302.9" font-size="11.10" fill="#000" font-weight="normal" text-anchor="start" textLength="27.0" lengthAdjust="spacingAndGlyphs">1.1085</text><text x="1315.8" y="336.4" font-size="11.10" fill="#000" font-weight="normal" text-anchor="start" textLength="27.0" lengthAdjust="spacingAndGlyphs">1.0980</text><text x="1315.8" y="369.9" font-size="11.10" fill="#000" font-weight="normal" text-anchor="start" textLength="27.0" lengthAdjust="spacingAndGlyphs">1.0875</text><text x="1315.8" y="403.4" font-size="11.10" fill="#000" font-weight="normal" text-anchor="start" textLength="27.0" lengthAdjust="spacingAndGlyphs">1.0770</text><text x="1315.8" y="436.9" font-size="11.10" fill="#000" font-weight="normal" text-anchor="start" textLength="27.0" lengthAdjust="spacingAndGlyphs">1.0665</text><text x="1315.8" y="470.4" font-size="11.10" fill="#000" font-weight="normal" text-anchor="start" textLength="27.0" lengthAdjust="spacingAndGlyphs">1.0560</text><text x="1315.8" y="503.8" font-size="11.10" fill="#000" font-weight="normal" text-anchor="start" textLength="27.0" lengthAdjust="spacingAndGlyphs">1.0455</text><text x="1315.8" y="537.3" font-size="11.10" fill="#000" font-weight="normal" text-anchor="start" textLength="27.0" lengthAdjust="spacingAndGlyphs">1.0350</text><text x="1315.8" y="570.8" font-size="11.10" fill="#000" font-weight="normal" text-anchor="start" textLength="27.0" lengthAdjust="spacingAndGlyphs">1.0245</text><text x="1315.8" y="604.3" font-size="11.10" fill="#000" font-weight="normal" text-anchor="start" textLength="27.0" lengthAdjust="spacingAndGlyphs">1.0140</text><text x="1314.0" y="618.8" font-size="11.10" fill="#000" font-weight="normal" text-anchor="start" textLength="14.0" lengthAdjust="spacingAndGlyphs">100</text><text x="1314.0" y="635.8" font-size="11.10" fill="#000" font-weight="normal" text-anchor="start" textLength="9.3" lengthAdjust="spacingAndGlyphs">80</text><text x="1314.0" y="707.8" font-size="11.10" fill="#000" font-weight="normal" text-anchor="start" textLength="9.3" lengthAdjust="spacingAndGlyphs">20</text><text x="1314.0" y="726.3" font-size="11.10" fill="#000" font-weight="normal" text-anchor="start" textLength="4.7" lengthAdjust="spacingAndGlyphs">0</text><text x="11.8" y="742.5" font-size="11.10" fill="#000" font-weight="normal" text-anchor="start" textLength="48.8" lengthAdjust="spacingAndGlyphs">5 Nov 2024</text><text x="75.8" y="742.5" font-size="11.10" fill="#000" font-weight="normal" text-anchor="start" textLength="53.7" lengthAdjust="spacingAndGlyphs">27 Nov 2024</text><text x="139.8" y="742.5" font-size="11.10" fill="#000" font-weight="normal" text-anchor="start" textLength="53.7" lengthAdjust="spacingAndGlyphs">19 Dec 2024</text><text x="203.8" y="742.5" font-size="11.10" fill="#000" font-weight="normal" text-anchor="start" textLength="53.7" lengthAdjust="spacingAndGlyphs">14 Jan 2025</text><text x="267.8" y="742.5" font-size="11.10" fill="#000" font-weight="normal" text-anchor="start" textLength="48.8" lengthAdjust="spacingAndGlyphs">5 Feb 2025</text><text x="331.8" y="742.5" font-size="11.10" fill="#000" font-weight="normal" text-anchor="start" textLength="53.7" lengthAdjust="spacingAndGlyphs">27 Feb 2025</text><text x="395.8" y="742.5" font-size="11.10" fill="#000" font-weight="normal" text-anchor="start" textLength="53.7" lengthAdjust="spacingAndGlyphs">21 Mar 2025</text><text x="459.8" y="742.5" font-size="11.10" fill="#000" font-weight="normal" text-anchor="start" textLength="53.7" lengthAdjust="spacingAndGlyphs">14 Apr 2025</text><text x="523.8" y="742.5" font-size="11.10" fill="#000" font-weight="normal" text-anchor="start" textLength="48.8" lengthAdjust="spacingAndGlyphs">6 May 2025</text><text x="587.8" y="742.5" font-size="11.10" fill="#000" font-weight="normal" text-anchor="start" textLength="53.7" lengthAdjust="spacingAndGlyphs">28 May 2025</text><text x="651.8" y="742.5" font-size="11.10" fill="#000" font-weight="normal" text-anchor="start" textLength="53.7" lengthAdjust="spacingAndGlyphs">19 Jun 2025</text><text x="715.8" y="742.5" font-size="11.10" fill="#000" font-weight="normal" text-anchor="start" textLength="53.7" lengthAdjust="spacingAndGlyphs">11 Jul 2025</text><text x="779.8" y="742.5" font-size="11.10" fill="#000" font-weight="normal" text-anchor="start" textLength="48.8" lengthAdjust="spacingAndGlyphs">4 Aug 2025</text><text x="843.8" y="742.5" font-size="11.10" fill="#000" font-weight="normal" text-anchor="start" textLength="53.7" lengthAdjust="spacingAndGlyphs">26 Aug 2025</text><text x="907.8" y="742.5" font-size="11.10" fill="#000" font-weight="normal" text-anchor="start" textLength="53.7" lengthAdjust="spacingAndGlyphs">17 Sep 2025</text><text x="971.8" y="742.5" font-size="11.10" fill="#000" font-weight="normal" text-anchor="start" textLength="48.8" lengthAdjust="spacingAndGlyphs">9 Oct 2025</text><text x="1.8" y="14.1" font-size="11.40" fill="#1a2848" font-weight="bold" text-anchor="start" textLength="89.2" lengthAdjust="spacingAndGlyphs">1.1615 1.1586 1.1590</text><text x="496.2" y="165.0" font-size="16.95" fill="#26262e" font-weight="normal" text-anchor="start" textLength="81.6" lengthAdjust="spacingAndGlyphs">Order-block</text><text x="624.0" y="204.9" font-size="17.25" fill="#26262e" font-weight="normal" text-anchor="start" textLength="81.6" lengthAdjust="spacingAndGlyphs">Imbalance 1</text><text x="663.3" y="169.5" font-size="17.25" fill="#26262e" font-weight="normal" text-anchor="start" textLength="84.3" lengthAdjust="spacingAndGlyphs">Imbalance 2</text><text x="831.0" y="195.9" font-size="17.25" fill="#26262e" font-weight="normal" text-anchor="start" textLength="84.3" lengthAdjust="spacingAndGlyphs">Imbalance 3</text><text x="803.1" y="154.4" font-size="17.25" fill="#26262e" font-weight="normal" text-anchor="start" textLength="83.4" lengthAdjust="spacingAndGlyphs">Imbalance 4</text><text x="901.9" y="112.1" font-size="17.25" fill="#26262e" font-weight="normal" text-anchor="start" textLength="8.1" lengthAdjust="spacingAndGlyphs">5</text><text x="939.0" y="70.8" font-size="17.25" fill="#26262e" font-weight="normal" text-anchor="start" textLength="84.3" lengthAdjust="spacingAndGlyphs">Imbalance 6</text><text x="1011.0" y="116.6" font-size="17.25" fill="#26262e" font-weight="normal" text-anchor="start" textLength="83.4" lengthAdjust="spacingAndGlyphs">Imbalance 7</text></g>
<rect x="1311.0" y="133.5" width="35.7" height="10.4" fill="#000"/>
<g font-family="Liberation Sans, sans-serif"><text x="1315.8" y="142.5" font-size="11.10" fill="#fff" font-weight="normal" text-anchor="start" textLength="27.0" lengthAdjust="spacingAndGlyphs">1.1590</text></g></svg></body></html>
